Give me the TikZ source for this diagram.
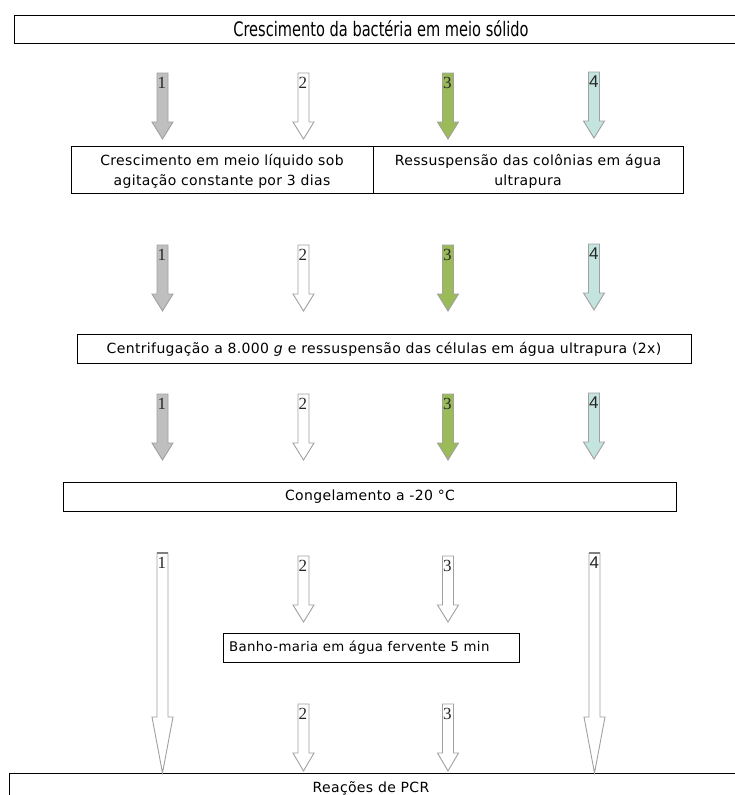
\documentclass[tikz,border=0pt]{standalone}
\usepackage{fontspec}
\setmainfont{DejaVu Sans}[LetterSpace=2.5]
\newfontfamily\narrowfont[FakeStretch=0.73]{DejaVu Sans}
\newfontfamily\numserif{Liberation Serif}
\newfontfamily\numsans{Liberation Sans}
\definecolor{arrowgray}{HTML}{BFBFBF}
\definecolor{arrowedge}{HTML}{A0A0A0}
\definecolor{arrowgreen}{HTML}{9BBB59}
\definecolor{arrowcyan}{HTML}{C4E4DF}
\tikzset{
  box/.style={draw=black, line width=0.9pt, inner sep=0pt},
  boxtext/.style={font=\fontsize{14}{20}\selectfont, align=center, inner sep=0pt},
  arrowline/.style={draw=arrowedge, line width=0.9pt, line join=miter},
  numlabel/.style={inner sep=0pt, anchor=north west, text=black!85, font=\numserif\fontsize{17}{17}\selectfont},
}
% block arrow: x, top, head start, tip, fill, label, id
\newcommand{\blockarrow}[7]{%
  \draw[arrowline, fill=#5] (#1-5.5,#2) -- (#1+5.5,#2) -- (#1+5.5,#3) -- (#1+10.5,#3)
    -- (#1,#4) -- (#1-10.5,#3) -- (#1-5.5,#3) -- cycle;
  \node[numlabel] (lbl#7) at (#1-5,#2+4) {#6};}
\begin{document}
\begin{tikzpicture}[x=1pt,y=-1pt]
\useasboundingbox (0,0) rectangle (734,795);

% boxes
\draw[box] (14,15) rectangle (740,43);
\node[inner sep=0pt, font=\narrowfont\fontsize{20}{24}\selectfont] (solido) at (381,29) {Crescimento da bactéria em meio sólido};
\draw[box] (71,146) rectangle (373,193);
\draw[box] (373,146) rectangle (683,193);
\node[boxtext] (liquido) at (222,171) {Crescimento em meio líquido sob\\agitação constante por 3 dias};
\node[boxtext] (colonias) at (528,171) {Ressuspensão das colônias em água\\ultrapura};
\draw[box] (77,334) rectangle (691,363);
\node[boxtext] (centrif) at (384,349) {Centrifugação a 8.000 \textit{g} e ressuspensão das células em água ultrapura (2x)};
\draw[box] (63,482) rectangle (676,511);
\node[boxtext] (congel) at (370,497) {Congelamento a -20 °C};
\draw[box] (223,633) rectangle (519,662);
\node[boxtext, anchor=west, font=\fontsize{13.3}{20}\selectfont] (banho) at (229,648) {Banho-maria em água fervente 5 min};
\draw[box] (9,773) rectangle (740,800);
\node[boxtext] (pcr) at (371,788) {Reações de PCR};

% row 1
\blockarrow{162.5}{73}{122}{139}{arrowgray}{1}{a1}
\blockarrow{303.5}{73}{122}{139}{white}{2}{a2}
\blockarrow{448}{73}{122}{139}{arrowgreen}{3}{a3}
\blockarrow{594}{72}{121}{138}{arrowcyan}{\numsans 4}{a4}
% row 2
\blockarrow{162.5}{245}{294}{311}{arrowgray}{1}{b1}
\blockarrow{303.5}{245}{294}{311}{white}{2}{b2}
\blockarrow{448}{245}{294}{311}{arrowgreen}{3}{b3}
\blockarrow{594}{244}{293}{310}{arrowcyan}{\numsans 4}{b4}
% row 3
\blockarrow{162.5}{394}{443}{460}{arrowgray}{1}{c1}
\blockarrow{303.5}{394}{443}{460}{white}{2}{c2}
\blockarrow{448}{394}{443}{460}{arrowgreen}{3}{c3}
\blockarrow{594}{393}{442}{459}{arrowcyan}{\numsans 4}{c4}
% rows 4 and 5
\blockarrow{303.5}{556}{605}{622}{white}{2}{d2}
\blockarrow{448}{556}{605}{622}{white}{3}{d3}
\blockarrow{303.5}{704}{753}{771}{white}{2}{e2}
\blockarrow{448}{704}{753}{771}{white}{3}{e3}
% long arrows
\blockarrow{162.5}{553}{717}{773}{white}{1}{f1}
\blockarrow{594.5}{553}{717}{773}{white}{\numsans 4}{f4}
\draw[draw=gray, line width=2.4pt] (157,553) -- (168,553);
\draw[draw=gray, line width=2.4pt] (589,553) -- (600,553);
\end{tikzpicture}
\end{document}
